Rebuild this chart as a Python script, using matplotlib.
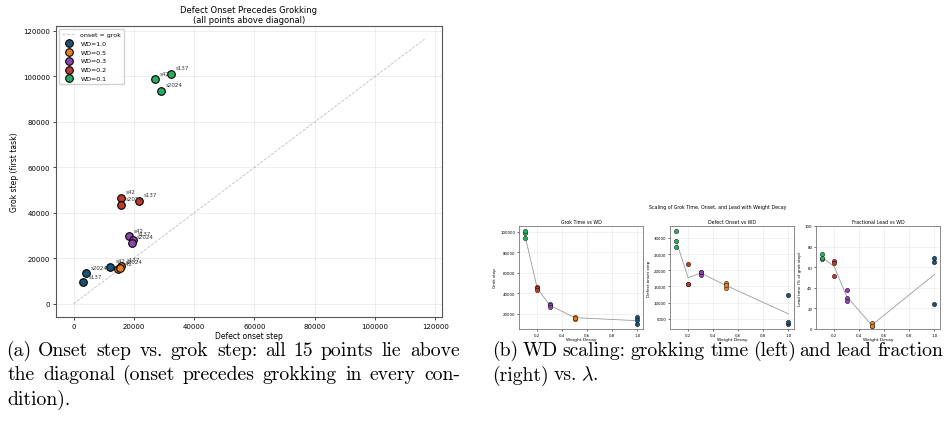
import numpy as np
import pandas as pd
import matplotlib
matplotlib.use("Agg")
import matplotlib.pyplot as plt
from matplotlib.ticker import MultipleLocator
from matplotlib.textpath import TextPath
from matplotlib.font_manager import FontProperties

# ---- data ----
wd_levels = [1.0, 0.5, 0.3, 0.2, 0.1]
wd_colors = ['#1a5276', '#e67e22', '#8e44ad', '#c0392b', '#27ae60']
seed_names = ['s42', 's137', 's2024']

onset_steps = {
    1.0: [12200, 3300, 4100],
    0.5: [14600, 15900, 15500],
    0.3: [18400, 19600, 19400],
    0.2: [15600, 21800, 15600],
    0.1: [27100, 32200, 29000],
}
grok_steps = {
    1.0: [16150, 9400, 13350],
    0.5: [15100, 16800, 15900],
    0.3: [29650, 28050, 26600],
    0.2: [46400, 45100, 43450],
    0.1: [98700, 101200, 93700],
}

caption_a = ["(a) Onset step vs. grok step: all 15 points lie above",
             "the diagonal (onset precedes grokking in every con-",
             "dition)."]
caption_b = ["(b) WD scaling: grokking time (left) and lead fraction",
             r"(right) vs. $\lambda$."]

rows = []
for w in wd_levels:
    for s, on, gk in zip(seed_names, onset_steps[w], grok_steps[w]):
        rows.append({'wd': w, 'seed': s, 'onset': on, 'grok': gk})
df = pd.DataFrame(rows)
df['lead'] = (df['grok'] - df['onset']) / df['grok'] * 100
means = df.groupby('wd')[['onset', 'grok', 'lead']].mean().sort_index()

plt.rcParams['mathtext.fontset'] = 'cm'
W, H = 948, 435
fig = plt.figure(figsize=(W / 100, H / 100), dpi=100)


def px_axes(x0, y0, x1, y1):
    return fig.add_axes([x0 / W, 1 - y1 / H, (x1 - x0) / W, (y1 - y0) / H])


# ---- (a) onset vs grok scatter ----
ax = px_axes(56, 27, 442, 318)
lim = df['grok'].max() * 1.15
ax.plot([0, lim], [0, lim], ls='--', color='gray', lw=0.6, alpha=0.5, label='onset = grok')
for w, c in zip(wd_levels, wd_colors):
    sub = df[df['wd'] == w]
    ax.scatter(sub['onset'], sub['grok'], s=30, color=c, edgecolors='black',
               linewidths=0.8, zorder=3, label=f'WD={w}')
    for _, r in sub.iterrows():
        ax.annotate(r['seed'], (r['onset'], r['grok']), xytext=(3.5, 3.5),
                    textcoords='offset points', fontsize=4, color='#333333')
ax.set_xlim(-lim * 0.05, lim * 1.05)
ax.set_ylim(-lim * 0.05, lim * 1.05)
ax.set_xlabel('Defect onset step', fontsize=5.5, labelpad=1)
ax.set_ylabel('Grok step (first task)', fontsize=5.5, labelpad=3)
ax.set_title('Defect Onset Precedes Grokking\n(all points above diagonal)', fontsize=6, pad=3,
             linespacing=1.05)
ax.tick_params(labelsize=5, length=2.5, width=0.5, pad=2)
ax.grid(alpha=0.3, lw=0.5)
for sp in ax.spines.values():
    sp.set_color('#555555')
    sp.set_linewidth(0.8)
ax.legend(loc='upper left', fontsize=4.5, borderaxespad=0.4, handlelength=2.2,
          labelspacing=0.55, borderpad=0.5, framealpha=0.9)

# ---- (b) WD scaling, three panels ----
panels = [
    ('grok', 'Grok Time vs WD', 'Grok step', 519, 20000),
    ('onset', 'Defect Onset vs WD', 'Defect onset step', 670, 5000),
    ('lead', 'Fractional Lead vs WD', 'Lead time (% of grok step)', 816, 20),
]
for col, title, ylabel, left, step in panels:
    bx = px_axes(left, 227, left + 124, 330)
    bx.plot(means.index, means[col], color='gray', lw=0.6, alpha=0.8, zorder=2)
    for w, c in zip(wd_levels, wd_colors):
        sub = df[df['wd'] == w]
        bx.scatter(sub['wd'], sub[col], s=10, color=c, edgecolors='black',
                   linewidths=0.3, zorder=3)
    bx.set_title(title, fontsize=3.4, pad=2)
    bx.set_xlabel('Weight Decay', fontsize=3.2, labelpad=0.5)
    bx.set_ylabel(ylabel, fontsize=3.0, labelpad=2)
    bx.yaxis.set_major_locator(MultipleLocator(step))
    bx.xaxis.set_major_locator(MultipleLocator(0.2))
    if col == 'lead':
        bx.set_ylim(0, 100)
    bx.tick_params(labelsize=2.8, length=1.5, width=0.4, pad=1.2)
    bx.grid(alpha=0.3, lw=0.4)
    for sp in bx.spines.values():
        sp.set_color('#777777')
        sp.set_linewidth(0.6)

fig.text(718 / W, 1 - 207 / H, 'Scaling of Grok Time, Onset, and Lead with Weight Decay',
         fontsize=3.4, ha='center', va='center')

# ---- captions (justified, serif) ----
cap_size = 14.2
cap_prop = FontProperties(family='cmr10', size=cap_size)
px_per_pt = 100 / 72


def ink(word):
    # ink extents of a word, in pixels: (left bearing, right edge)
    ext = TextPath((0, 0), word, prop=cap_prop).get_extents()
    return ext.x0 * px_per_pt, ext.x1 * px_per_pt


def caption(lines, x0, x1, y_base, step):
    for i, line in enumerate(lines):
        words = line.split(' ')
        spans = [ink(w_) for w_ in words]
        inked = sum(b - a for a, b in spans)
        if i < len(lines) - 1 and len(words) > 1:
            gap = (x1 - x0 - inked) / (len(words) - 1)
        else:
            gap = cap_size * px_per_pt * 0.333
        x = x0
        y = H - (y_base + i * step)
        for w_, (a, b) in zip(words, spans):
            fig.text((x - a) / W, y / H, w_, fontsize=cap_size, family='cmr10', va='baseline')
            x += (b - a) + gap


caption(caption_a, 8, 459, 356, 24.5)
caption(caption_b, 494, 943, 356, 24.5)

fig.savefig('out.png', dpi=100)
